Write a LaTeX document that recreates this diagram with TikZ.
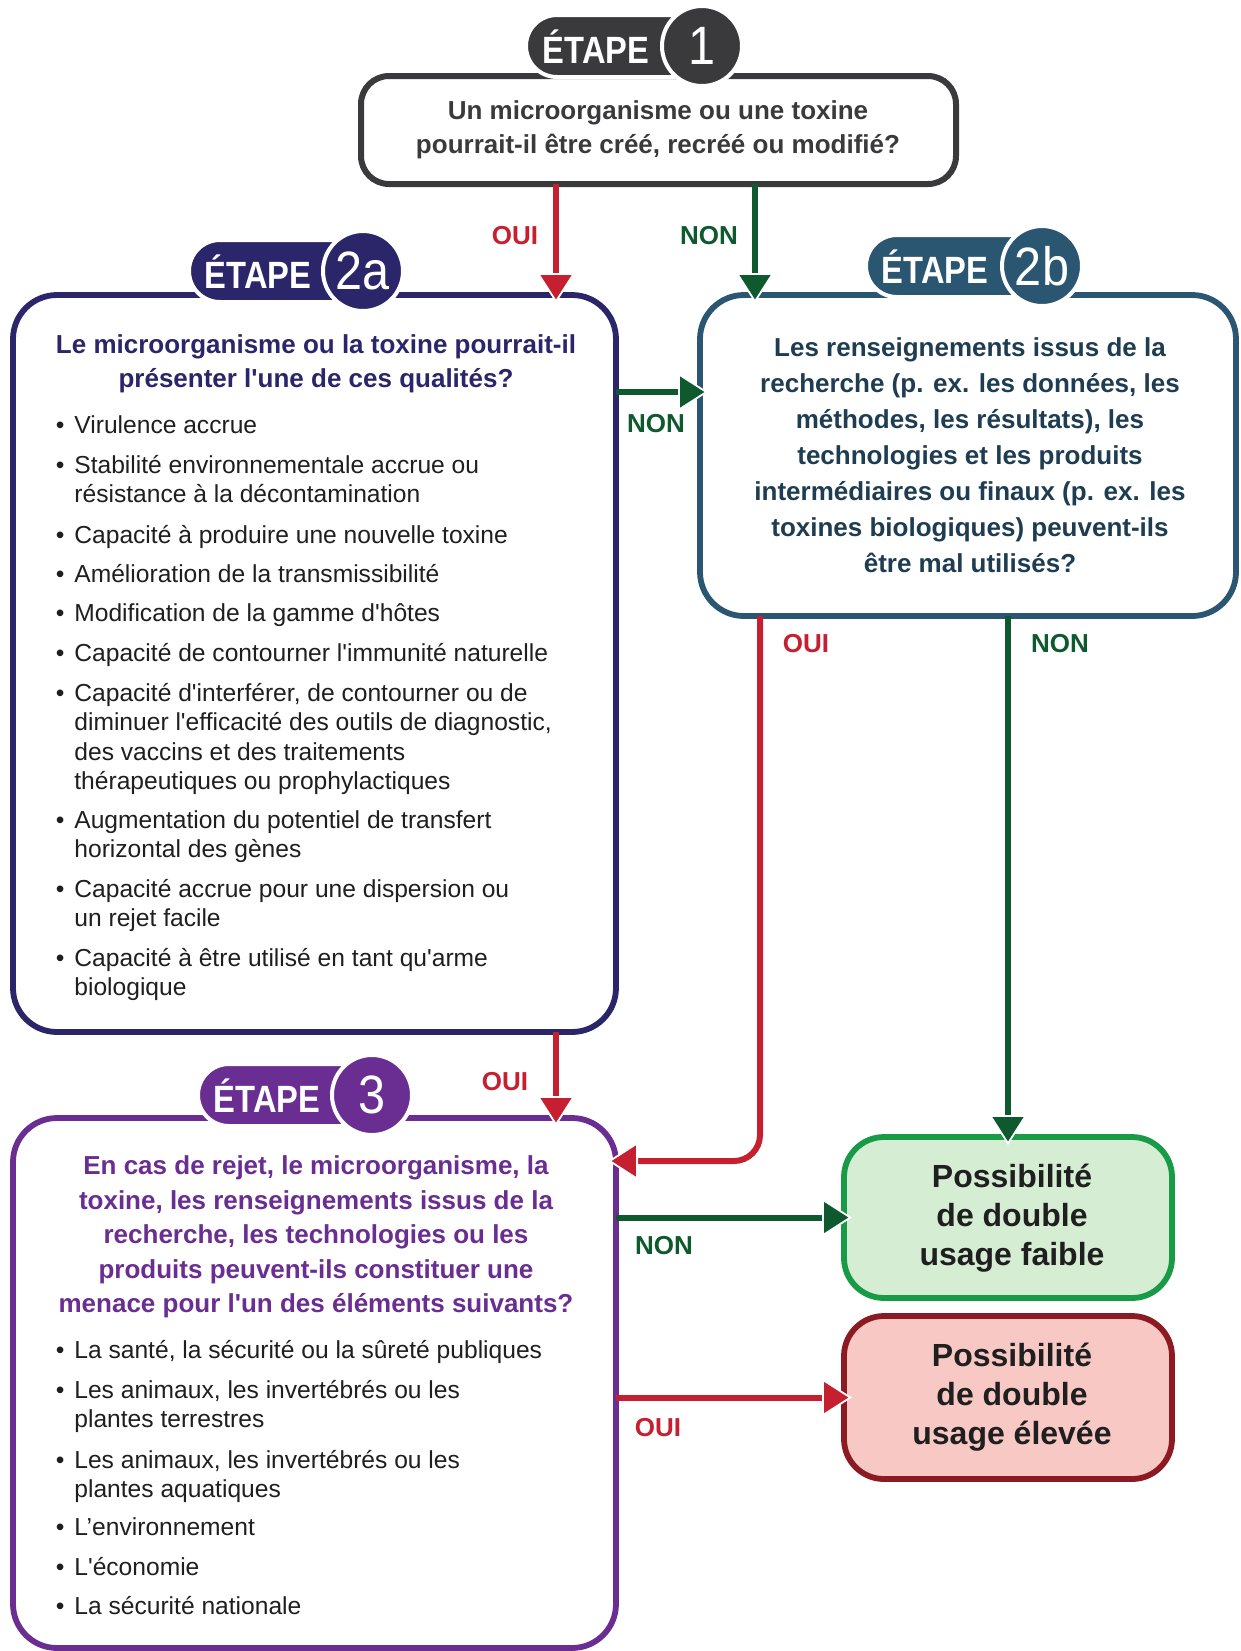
\documentclass[tikz,border=0pt]{standalone}
\usepackage{fontspec}
\setmainfont{Liberation Sans}[Ligatures=TeXOff]
\newfontfamily\badgefont{Liberation Sans}[FakeStretch=0.86]
\newfontfamily\numfont{Liberation Sans}[FakeStretch=0.9]
\usetikzlibrary{arrows.meta}
\definecolor{cgray}{HTML}{3A3A3C}
\definecolor{cnavy}{HTML}{2A2669}
\definecolor{cteal}{HTML}{2B5672}
\definecolor{ctealtext}{HTML}{1E3D52}
\definecolor{cpurple}{HTML}{6A2D91}
\definecolor{cred}{HTML}{C61F30}
\definecolor{cgreen}{HTML}{0E5A2E}
\definecolor{cgbord}{HTML}{189A47}
\definecolor{cgfill}{HTML}{D5EDD3}
\definecolor{crbord}{HTML}{8C1A22}
\definecolor{crfill}{HTML}{F7C8C4}
\begin{document}
\begin{tikzpicture}[x=0.5pt,y=-0.5pt,
  box/.style={draw, line width=2.9pt, rounded corners=22pt, inner sep=0pt, outer sep=0pt, fill=white},
  pill/.style={draw=white, line width=2pt, rounded corners=15.5pt},
  num/.style={circle, draw=white, line width=2pt, minimum size=40pt, inner sep=0pt, text=white, font=\numfont\fontsize{27}{28}\selectfont},
  badgetext/.style={text=white, inner sep=0pt, font=\badgefont\bfseries\fontsize{19}{21}\selectfont},
  head/.style={align=center, inner sep=0pt, font=\bfseries\fontsize{13}{17}\selectfont},
  bul/.style={anchor=base west, inner sep=0pt, text=black!88, font=\fontsize{12.3}{14.75}\selectfont},
  res/.style={align=center, inner sep=0pt, text=black!88, font=\bfseries\fontsize{16}{19.5}\selectfont},
  lab/.style={inner sep=0pt, font=\bfseries\fontsize{13}{15}\selectfont},
  conn/.style={draw=#1, line width=3pt, shorten >=-4pt, -{Triangle[width=19pt,length=15pt,line width=0.9pt,color=white,fill=#1]}}
]
\useasboundingbox (0,0) rectangle (1241,1651);
\fill[white] (0,0) rectangle (1241,1651);

% boxes
\node[box, draw=cgray, rounded corners=14pt, line width=3pt, minimum width=297.5pt, minimum height=54pt] (b1) at (658.5,130) {};
\node[box, draw=cnavy, minimum width=301.5pt, minimum height=368.5pt] (b2a) at (314.5,663.5) {};
\node[box, draw=cteal, minimum width=268pt, minimum height=160.5pt] (b2b) at (968,455.5) {};
\node[box, draw=cpurple, minimum width=301.5pt, minimum height=265pt] (b3) at (314.5,1383) {};
\node[box, draw=cgbord, fill=cgfill, rounded corners=20pt, minimum width=164pt, minimum height=80.5pt] (gbox) at (1008,1217.5) {};
\node[box, draw=crbord, fill=crfill, rounded corners=20pt, minimum width=164pt, minimum height=81.5pt] (rbox) at (1008,1397.5) {};

% badges
\filldraw[pill, fill=cgray] (526,15) rectangle (702,77);
\node[num, fill=cgray] (n1) at (702,46) {1};
\node[badgetext] (e1) at (596,47) {ÉTAPE};

\filldraw[pill, fill=cnavy] (189,240) rectangle (363,302);
\node[num, fill=cnavy] (n2a) at (363,271) {2a};
\node[badgetext] (e2a) at (258,272) {ÉTAPE};

\filldraw[pill, fill=cteal] (866,235) rectangle (1042,297);
\node[num, fill=cteal] (n2b) at (1042,266) {2b};
\node[badgetext] (e2b) at (935,267) {ÉTAPE};

\filldraw[pill, fill=cpurple] (198,1064) rectangle (372,1126);
\node[num, fill=cpurple] (n3) at (372,1095) {3};
\node[badgetext] (e3) at (267,1096) {ÉTAPE};

% coordinates for connectors
\coordinate (xA) at (556,0);
\coordinate (xB) at (755,0);
\coordinate (yC) at (0,392);
\coordinate (xD) at (760,0);
\coordinate (yE) at (0,1161);

% connectors
\draw[conn=cred] (b1.south -| xA) -- (b2a.north -| xA);
\draw[conn=cgreen] (b1.south -| xB) -- (b2b.north -| xB);
\draw[conn=cgreen] (b2a.east |- yC) -- (b2b.west |- yC);
\draw[conn=cred, rounded corners=13pt] (b2b.south -| xD) |- (b3.east |- yE);
\draw[conn=cgreen] (b2b.south -| gbox.north) -- (gbox.north);
\draw[conn=cred] (b2a.south -| xA) -- (b3.north -| xA);
\draw[conn=cgreen] (b3.east |- gbox.west) -- (gbox.west);
\draw[conn=cred] (b3.east |- rbox.west) -- (rbox.west);

% labels
\node[lab, text=cred] (l1) at (515,236) {OUI};
\node[lab, text=cgreen] (l2) at (709,236) {NON};
\node[lab, text=cgreen] (l3) at (656,424) {NON};
\node[lab, text=cred] (l4) at (806,644) {OUI};
\node[lab, text=cgreen] (l5) at (1060,644) {NON};
\node[lab, text=cred] (l6) at (505,1082) {OUI};
\node[lab, text=cgreen] (l7) at (664,1246) {NON};
\node[lab, text=cred] (l8) at (658,1428) {OUI};

% texts
\node[head, text=cgray] (t1) at (658,130) {Un microorganisme ou une toxine\\pourrait-il être créé, recréé ou modifié?};
\node[head, text=cnavy] (t2a) at (316,364) {Le microorganisme ou la toxine pourrait-il\\présenter l'une de ces qualités?};
\node[head, text=ctealtext, font=\bfseries\fontsize{13}{18}\selectfont] (t2b) at (970,455) {Les renseignements issus de la\\recherche (p. ex. les données, les\\méthodes, les résultats), les\\technologies et les produits\\intermédiaires ou finaux (p. ex. les\\toxines biologiques) peuvent-ils\\être mal utilisés?};
\node[head, text=cpurple, font=\bfseries\fontsize{13}{17.25}\selectfont] (t3) at (316,1237) {En cas de rejet, le microorganisme, la\\toxine, les renseignements issus de la\\recherche, les technologies ou les\\produits peuvent-ils constituer une\\menace pour l'un des éléments suivants?};
\node[res] (tg) at (1012,1218) {Possibilité\\de double\\usage faible};
\node[res] (tr) at (1012,1397) {Possibilité\\de double\\usage élevée};

% bullets 2a
\node[bul] (a1) at (74,433) {\llap{•\hspace{5pt}}Virulence accrue};
\node[bul] (a2) at (74,473) {\llap{•\hspace{5pt}}Stabilité environnementale accrue ou};
\node[bul] (a2b) at (74,502.5) {résistance à la décontamination};
\node[bul] (a3) at (74,543) {\llap{•\hspace{5pt}}Capacité à produire une nouvelle toxine};
\node[bul] (a4) at (74,582) {\llap{•\hspace{5pt}}Amélioration de la transmissibilité};
\node[bul] (a5) at (74,621) {\llap{•\hspace{5pt}}Modification de la gamme d'hôtes};
\node[bul] (a6) at (74,661) {\llap{•\hspace{5pt}}Capacité de contourner l'immunité naturelle};
\node[bul] (a7) at (74,701) {\llap{•\hspace{5pt}}Capacité d'interférer, de contourner ou de};
\node[bul] (a7b) at (74,730.5) {diminuer l'efficacité des outils de diagnostic,};
\node[bul] (a7c) at (74,760) {des vaccins et des traitements};
\node[bul] (a7d) at (74,789.5) {thérapeutiques ou prophylactiques};
\node[bul] (a8) at (74,828) {\llap{•\hspace{5pt}}Augmentation du potentiel de transfert};
\node[bul] (a8b) at (74,857.5) {horizontal des gènes};
\node[bul] (a9) at (74,897) {\llap{•\hspace{5pt}}Capacité accrue pour une dispersion ou};
\node[bul] (a9b) at (74,926.5) {un rejet facile};
\node[bul] (a10) at (74,966) {\llap{•\hspace{5pt}}Capacité à être utilisé en tant qu'arme};
\node[bul] (a10b) at (74,995.5) {biologique};

% bullets 3
\node[bul] (c1) at (74,1358) {\llap{•\hspace{5pt}}La santé, la sécurité ou la sûreté publiques};
\node[bul] (c2) at (74,1398) {\llap{•\hspace{5pt}}Les animaux, les invertébrés ou les};
\node[bul] (c2b) at (74,1427.5) {plantes terrestres};
\node[bul] (c3) at (74,1468) {\llap{•\hspace{5pt}}Les animaux, les invertébrés ou les};
\node[bul] (c3b) at (74,1497.5) {plantes aquatiques};
\node[bul] (c4) at (74,1535) {\llap{•\hspace{5pt}}L’environnement};
\node[bul] (c5) at (74,1575) {\llap{•\hspace{5pt}}L'économie};
\node[bul] (c6) at (74,1614) {\llap{•\hspace{5pt}}La sécurité nationale};
\end{tikzpicture}
\end{document}
